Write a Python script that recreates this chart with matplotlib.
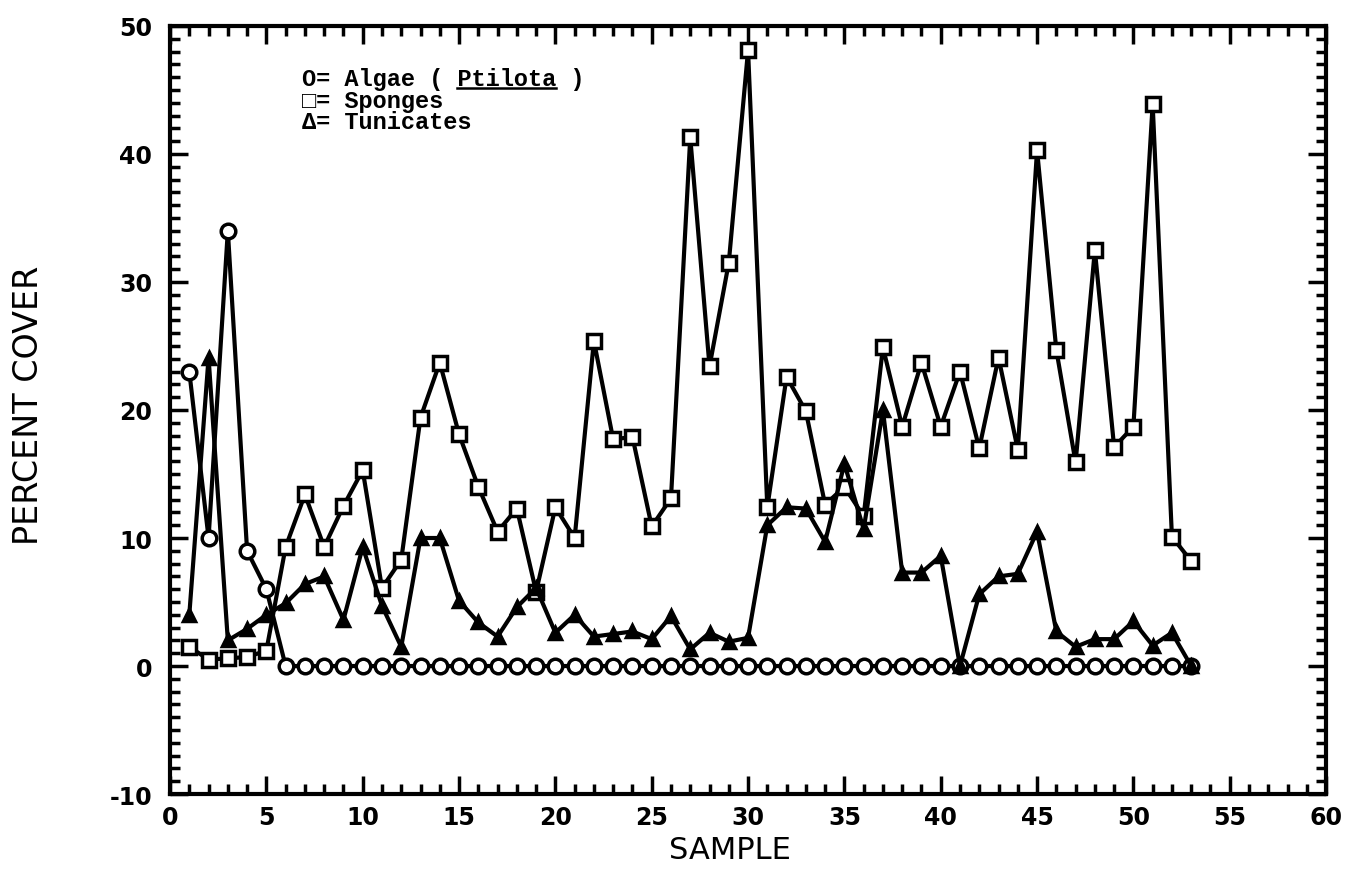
import matplotlib
matplotlib.use("Agg")
import matplotlib.pyplot as plt
from matplotlib.ticker import MultipleLocator
from matplotlib.lines import Line2D

plt.rcParams["axes.unicode_minus"] = False

samples = list(range(1, 54))

algae = [23.0, 10.0, 34.0, 9.0, 6.0] + [0.0] * 48

sponges = [1.5, 0.5, 0.6, 0.7, 1.2, 9.3, 13.4, 9.3, 12.5, 15.3,
           6.1, 8.3, 19.4, 23.7, 18.1, 14.0, 10.5, 12.3, 5.8, 12.4,
           10.0, 25.4, 17.7, 17.9, 10.9, 13.1, 41.3, 23.4, 31.5, 48.1,
           12.4, 22.6, 19.9, 12.6, 14.0, 11.7, 24.9, 18.7, 23.7, 18.7,
           23.0, 17.0, 24.1, 16.9, 40.3, 24.7, 15.9, 32.5, 17.1, 18.7,
           43.9, 10.1, 8.2]

tunicates = [4.0, 24.1, 2.0, 2.9, 4.0, 4.9, 6.4, 7.0, 3.6, 9.3,
             4.7, 1.5, 10.0, 10.0, 5.1, 3.4, 2.3, 4.6, 6.1, 2.6,
             4.0, 2.3, 2.5, 2.7, 2.1, 3.9, 1.3, 2.6, 1.9, 2.2,
             11.0, 12.4, 12.3, 9.7, 15.8, 10.7, 20.0, 7.3, 7.3, 8.6,
             0.0, 5.6, 7.0, 7.2, 10.5, 2.7, 1.5, 2.1, 2.1, 3.5,
             1.6, 2.6, 0.0]

legend_lines = ["O= Algae ( Ptilota )", "\u25a1= Sponges", "\u0394= Tunicates"]

fig = plt.figure(figsize=(13.57, 8.87), dpi=100)
ax = fig.add_axes([0.1253, 0.1037, 0.8519, 0.8659])

line_kw = dict(color="black", lw=3, markeredgecolor="black", markeredgewidth=2.5)
ax.plot(samples, algae, marker="o", markersize=10.5, markerfacecolor="white", **line_kw)
ax.plot(samples, sponges, marker="s", markersize=10, markerfacecolor="white", **line_kw)
ax.plot(samples, tunicates, marker="^", markersize=9, markerfacecolor="black", **line_kw)

ax.set_xlim(0, 60)
ax.set_ylim(-10, 50)
ax.xaxis.set_major_locator(MultipleLocator(5))
ax.xaxis.set_minor_locator(MultipleLocator(1))
ax.yaxis.set_major_locator(MultipleLocator(10))
ax.yaxis.set_minor_locator(MultipleLocator(1))
ax.tick_params(which="both", direction="in", top=True, right=True, width=2.5)
ax.tick_params(which="major", length=13, labelsize=17)
ax.tick_params(axis="x", which="major", pad=8)
ax.tick_params(axis="y", which="major", pad=13)
ax.tick_params(which="minor", length=7)
for lab in ax.get_xticklabels() + ax.get_yticklabels():
    lab.set_fontweight("bold")
for sp in ax.spines.values():
    sp.set_linewidth(3)

fig.text(0.021, 0.543, "PERCENT COVER", rotation=90, ha="center", va="center",
         fontsize=24, family="DejaVu Sans")
fig.text(0.538, 0.041, "SAMPLE", ha="center", va="center",
         fontsize=22, family="DejaVu Sans")

fams = ["Liberation Mono", "DejaVu Sans Mono", "DejaVu Sans"]
ys = [0.932, 0.903, 0.875]
texts = []
for txt, yy in zip(legend_lines, ys):
    t = ax.text(0.114, yy, txt, transform=ax.transAxes, ha="left", va="center",
                fontsize=17, fontweight="bold", family=fams)
    texts.append(t)

# underline the genus name
fig.canvas.draw()
r = fig.canvas.get_renderer()
bb = texts[0].get_window_extent(renderer=r)
cw = bb.width / len(legend_lines[0])
i0 = legend_lines[0].index("Ptilota")
x0 = bb.x0 + cw * i0
x1 = x0 + cw * len("Ptilota")
inv = fig.transFigure.inverted()
(fx0, fy), (fx1, _) = inv.transform([(x0, bb.y0 + 2), (x1, bb.y0 + 2)])
fig.add_artist(Line2D([fx0, fx1], [fy, fy], transform=fig.transFigure,
                      color="black", lw=1.8))

fig.savefig("out.png", dpi=100)
